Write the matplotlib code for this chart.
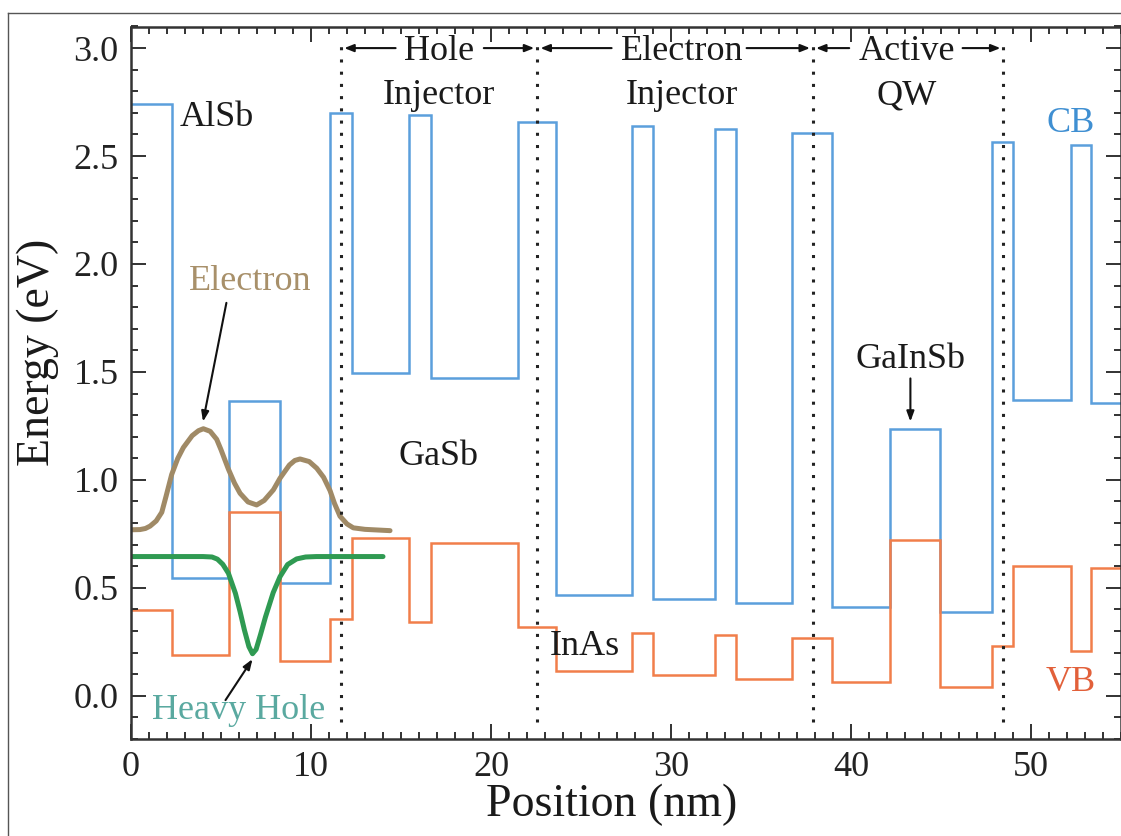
import matplotlib
matplotlib.use("Agg")
import matplotlib.pyplot as plt
from matplotlib.lines import Line2D
from matplotlib.ticker import MultipleLocator, FormatStrFormatter

# layer boundaries along the growth direction (nm)
edges = [0, 2.27, 5.42, 8.28, 11.08, 12.28, 15.44, 16.67, 21.5, 23.61, 27.86,
         29.02, 32.44, 33.61, 36.71, 38.94, 42.17, 44.94, 47.83, 49.0, 52.22,
         53.33, 55]
# band edges of each layer (eV)
cb = [2.74, 0.545, 1.367, 0.522, 2.70, 1.495, 2.69, 1.47, 2.66, 0.465, 2.64,
      0.448, 2.625, 0.432, 2.605, 0.41, 1.235, 0.39, 2.566, 1.37, 2.55, 1.355]
vb = [0.398, 0.19, 0.85, 0.163, 0.358, 0.73, 0.34, 0.71, 0.318, 0.117, 0.293,
      0.097, 0.282, 0.079, 0.267, 0.062, 0.72, 0.043, 0.231, 0.599, 0.208, 0.591]

# wavefunctions (offset at their energy levels)
electron_x = [0.0, 0.5, 0.8, 1.06, 1.4, 1.71, 1.95, 2.26, 2.6, 2.91, 3.4, 3.75,
              4.02, 4.4, 4.76, 5.0, 5.41, 5.75, 6.06, 6.5, 6.98, 7.4, 7.91,
              8.28, 8.8, 9.1, 9.39, 9.9, 10.32, 10.7, 11.06, 11.3, 11.61, 12.0,
              12.35, 13.0, 14.39]
electron_y = [0.769, 0.770, 0.775, 0.786, 0.810, 0.850, 0.925, 1.025, 1.10,
              1.150, 1.205, 1.228, 1.237, 1.225, 1.188, 1.140, 1.050, 0.985,
              0.938, 0.898, 0.884, 0.905, 0.954, 1.008, 1.069, 1.090, 1.097,
              1.085, 1.054, 1.012, 0.950, 0.892, 0.832, 0.796, 0.778, 0.771,
              0.765]
hh_x = [0.0, 4.0, 4.5, 4.8, 5.1, 5.41, 5.8, 6.06, 6.3, 6.55, 6.75, 6.95, 7.2,
        7.47, 7.9, 8.28, 8.7, 9.2, 9.7, 10.3, 14.0]
hh_y = [0.645, 0.645, 0.643, 0.633, 0.609, 0.568, 0.475, 0.390, 0.305, 0.228,
        0.195, 0.215, 0.285, 0.365, 0.478, 0.552, 0.608, 0.634, 0.643, 0.645,
        0.645]

# period section boundaries (nm)
section_bounds = [11.67, 22.56, 37.89, 48.46]
section_names = ["Hole\nInjector", "Electron\nInjector", "Active\nQW"]
section_label_x = [17.1, 30.6, 43.1]
# arrow tails / heads for each section (nm)
arrow_tails = [14.7, 19.6, 26.7, 34.2, 39.9, 46.2]
arrow_heads = [11.85, 22.4, 22.75, 37.72, 38.06, 48.3]

cb_color = "#5b9fdc"
vb_color = "#f17e4a"
el_color = "#a08a66"
hh_color = "#2f9a52"

plt.rcParams["font.family"] = ["Liberation Serif", "DejaVu Serif"]

fig = plt.figure(figsize=(11.21, 8.36), dpi=100)
ax = fig.add_axes([131 / 1121, 97 / 836, 990 / 1121, 712.5 / 836])

ax.stairs(cb, edges, color=cb_color, lw=1.8, baseline=None)
ax.stairs(vb, edges, color=vb_color, lw=1.8, baseline=None)

ax.plot(electron_x, electron_y, color=el_color, lw=3.6, solid_capstyle="round",
        solid_joinstyle="round")
ax.plot(hh_x, hh_y, color=hh_color, lw=3.6, solid_capstyle="round",
        solid_joinstyle="round")

for xb in section_bounds:
    ax.plot([xb, xb], [-0.12, 3.04], color="#222222", lw=2.2,
            linestyle=(0, (1, 3)))

for xt, xh in zip(arrow_tails, arrow_heads):
    ax.annotate("", xy=(xh, 3.0), xytext=(xt, 3.0),
                arrowprops=dict(arrowstyle="-|>,head_length=0.55,head_width=0.22",
                                color="#111111", lw=1.5, shrinkA=0, shrinkB=0))

for name, xl in zip(section_names, section_label_x):
    top, bottom = name.split("\n")
    ax.text(xl, 2.985, top, ha="center", va="center", fontsize=26, color="#1a1a1a")
    ax.text(xl, 2.78, bottom, ha="center", va="center", fontsize=26, color="#1a1a1a")

ax.text(2.7, 2.68, "AlSb", ha="left", va="center", fontsize=26, color="#1a1a1a")
ax.text(17.1, 1.11, "GaSb", ha="center", va="center", fontsize=26, color="#1a1a1a")
ax.text(25.2, 0.23, "InAs", ha="center", va="center", fontsize=26, color="#1a1a1a")
ax.text(43.3, 1.56, "GaInSb", ha="center", va="center", fontsize=26, color="#1a1a1a")
ax.text(52.2, 2.65, "CB", ha="center", va="center", fontsize=26, color="#3f8fd2")
ax.text(52.2, 0.06, "VB", ha="center", va="center", fontsize=26, color="#e2603a")
ax.text(6.6, 1.92, "Electron", ha="center", va="center", fontsize=26, color="#a8906a")
ax.text(5.97, -0.07, "Heavy Hole", ha="center", va="center", fontsize=26,
        color="#5aa9a0")

arrow_kw = dict(arrowstyle="-|>,head_length=0.6,head_width=0.22",
                color="#111111", lw=1.5, shrinkA=0, shrinkB=0)
ax.annotate("", xy=(4.0, 1.27), xytext=(5.3, 1.82), arrowprops=arrow_kw)
ax.annotate("", xy=(6.75, 0.17), xytext=(5.25, -0.02), arrowprops=arrow_kw)
ax.annotate("", xy=(43.3, 1.27), xytext=(43.3, 1.47), arrowprops=arrow_kw)

ax.set_xlim(0, 55)
ax.set_ylim(-0.2, 3.1)
ax.xaxis.set_major_locator(MultipleLocator(10))
ax.xaxis.set_minor_locator(MultipleLocator(1))
ax.yaxis.set_major_locator(MultipleLocator(0.5))
ax.yaxis.set_minor_locator(MultipleLocator(0.1))
ax.yaxis.set_major_formatter(FormatStrFormatter("%.1f"))
ax.tick_params(which="both", direction="in", top=True, right=True,
               labelsize=26, colors="#222222", width=1.3)
ax.tick_params(which="major", length=11, pad=9)
ax.tick_params(which="minor", length=5)
for s in ax.spines.values():
    s.set_linewidth(1.8)
    s.set_color("#333333")

ax.set_xlabel("Position (nm)", fontsize=33, color="#1a1a1a")
ax.set_ylabel("Energy (eV)", fontsize=33, color="#1a1a1a")
ax.xaxis.label.set_va("center")
ax.yaxis.label.set_va("center")
ax.xaxis.set_label_coords(0.485, -0.093)
ax.yaxis.set_label_coords(-0.094, 0.543)

# outer frame of the original figure
fig.add_artist(Line2D([7.5 / 1121, 7.5 / 1121], [0, 1 - 12.5 / 836],
                      transform=fig.transFigure, color="#555555", lw=1))
fig.add_artist(Line2D([7.5 / 1121, 1], [1 - 12.5 / 836, 1 - 12.5 / 836],
                      transform=fig.transFigure, color="#555555", lw=1))

fig.savefig("out.png", dpi=100)
